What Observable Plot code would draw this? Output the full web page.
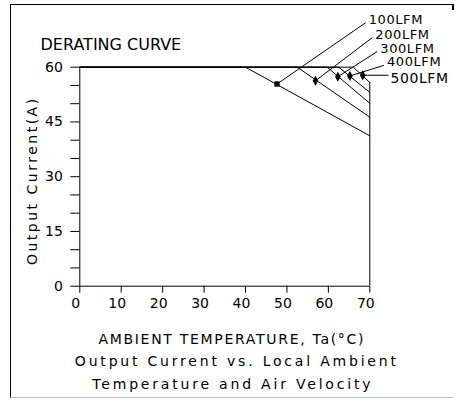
<!DOCTYPE html>
<html>
<head>
<meta charset="utf-8">
<script src="https://cdn.jsdelivr.net/npm/d3@7"></script>
<script src="https://cdn.jsdelivr.net/npm/@observablehq/plot@0.6"></script>
<style>
  html, body { margin: 0; padding: 0; background: #fff; }
  #wrap { position: relative; width: 455px; height: 401px; overflow: hidden; background: #fff; }
  #frame { position: absolute; left: 10px; top: 4px; width: 442px; height: 392px;
           border-left: 1.5px solid #000; border-top: 1.5px solid #000; border-bottom: 1px solid #bbb; }
  #stub { position: absolute; left: 452px; top: 4px; width: 1.5px; height: 6px; background: #000; }
  #chart { position: absolute; left: 0; top: 0; }
  svg text { font-family: "DejaVu Sans", sans-serif; }
</style>
</head>
<body>
<div id="wrap"><div id="frame"></div><div id="stub"></div><div id="chart"></div></div>
<script>
// ---- data ----
const series = ["100LFM", "200LFM", "300LFM", "400LFM", "500LFM"];
const maxCurrent = 60;                               // A (plateau)
const maxTemp = 70;                                  // °C
const deratingStart = [40, 52.5, 59.7, 62.5, 66];    // °C where derating begins
const currentAt70 = [41.2, 46.3, 50.1, 53.1, 55.8];  // A at 70 °C
const markerTemp = [47.6, 56.9, 62.3, 65.2, 68.3];
const markerCurrent = [55.4, 56.3, 57.4, 57.6, 57.8];
// annotation leader-line ends (label anchors), in data units
const labelTemp = [69.0, 70.6, 71.8, 73.4, 74.5];
const labelCurrent = [72.2, 68.1, 64.3, 60.5, 57.8];
const xTicks = [0, 10, 20, 30, 40, 50, 60, 70];
const yTickLabels = [0, 15, 30, 45, 60];
const yMinorTicks = [0, 5, 10, 15, 20, 25, 30, 35, 40, 45, 50, 55, 60];
const title = "DERATING CURVE";
const xLabel = "AMBIENT TEMPERATURE, Ta(°C)";
const yLabel = "Output Current(A)";
const caption1 = "Output Current vs. Local Ambient";
const caption2 = "Temperature and Air Velocity";

// ---- build tables ----
const curves = series.flatMap((s, i) => [
  {series: s, temp: 0, current: maxCurrent},
  {series: s, temp: deratingStart[i], current: maxCurrent},
  {series: s, temp: maxTemp, current: currentAt70[i]}
]);
const markers = series.map((s, i) => ({
  series: s, temp: markerTemp[i], current: markerCurrent[i],
  lt: labelTemp[i], lc: labelCurrent[i],
  symbol: i === 0 ? "square" : "diamond"
}));

const chart = Plot.plot({
  width: 455,
  height: 401,
  marginLeft: 79.3,
  marginRight: 85.7,
  marginTop: 66.7,
  marginBottom: 115.3,
  x: {domain: [0, maxTemp]},
  y: {domain: [0, maxCurrent]},
  style: {fontFamily: "DejaVu Sans, sans-serif", fontSize: "14px", color: "#000", background: "transparent", overflow: "visible"},
  marks: [
    // axis lines
    Plot.ruleX([0], {y1: 0, y2: maxCurrent, stroke: "#000"}),
    Plot.ruleY([0], {stroke: "#000"}),
    Plot.ruleX([maxTemp], {y1: 0, y2: d3.max(currentAt70), stroke: "#000"}),
    // ticks
    Plot.axisY({ticks: yMinorTicks, tickSize: 9, fill: "none", label: null}),
    Plot.axisY({ticks: yTickLabels, tickSize: 0, tickPadding: 17, label: null, fontSize: 14}),
    Plot.axisX({ticks: xTicks, tickSize: 7, fill: "none", label: null}),
    Plot.axisX({ticks: xTicks, tickSize: 0, tickPadding: 12, dx: -4, label: null, fontSize: 14}),
    // derating curves
    Plot.line(curves, {x: "temp", y: "current", z: "series", stroke: "#000", strokeWidth: 1}),
    // leader lines
    Plot.link(markers, {x1: "temp", y1: "current", x2: "lt", y2: "lc", stroke: "#000", strokeWidth: 1}),
    // markers
    Plot.dot(markers, {x: "temp", y: "current", symbol: "symbol", fill: "#000", stroke: "none", r: 3}),
    // labels
    Plot.text(markers.slice(0, 4), {x: "lt", y: "lc", text: "series", textAnchor: "start", lineAnchor: "bottom", dx: 3, dy: 1, fontSize: 13}),
    Plot.text(markers.slice(4), {x: "lt", y: "lc", text: "series", textAnchor: "start", lineAnchor: "middle", dx: 2, dy: 3, fontSize: 14}),
    // titles
    Plot.text([title], {frameAnchor: "top-left", textAnchor: "start", lineAnchor: "bottom", dx: -39.3, dy: -16.7, fontSize: 16}),
    Plot.text([xLabel], {frameAnchor: "bottom", textAnchor: "middle", lineAnchor: "bottom", dx: 7, dy: 57.3, fontSize: 14}),
    Plot.text([caption1], {frameAnchor: "bottom", textAnchor: "middle", lineAnchor: "bottom", dx: 12, dy: 79.3, fontSize: 14}),
    Plot.text([caption2], {frameAnchor: "bottom", textAnchor: "middle", lineAnchor: "bottom", dx: 8, dy: 102.3, fontSize: 14}),
    Plot.text([yLabel], {frameAnchor: "left", textAnchor: "middle", lineAnchor: "middle", rotate: -90, dx: -47.3, dy: 4, fontSize: 14})
  ]
});

// wide CAD-like letter spacing for the long labels
const spacing = new Map([[caption1, "2.8px"], [caption2, "2.8px"], [xLabel, "1.7px"], [yLabel, "2.5px"]]);
d3.select(chart).selectAll("text").each(function () {
  const s = spacing.get(this.textContent);
  if (s) this.style.letterSpacing = s;
  if (series.includes(this.textContent)) this.style.letterSpacing = "0.6px";
});
document.getElementById("chart").appendChild(chart);
</script>
</body>
</html>
